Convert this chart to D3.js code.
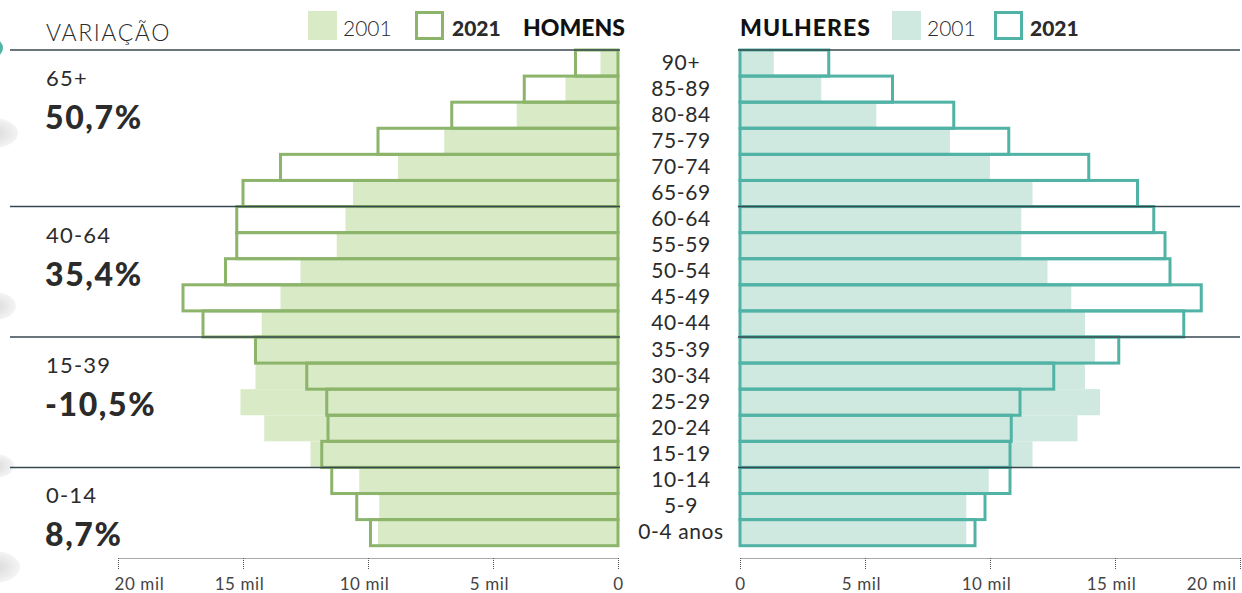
<!DOCTYPE html>
<html>
<head>
<meta charset="utf-8">
<script src="https://cdn.jsdelivr.net/npm/d3@7"></script>
<style>
  body { margin: 0; background: #fff; }
  svg { display: block; font-family: Lato, "Open Sans", sans-serif; }
</style>
</head>
<body>
<div id="chart"></div>
<script>
var width = 1242;
var height = 593;

// age groups, top to bottom
var ages = ['90+', '85-89', '80-84', '75-79', '70-74', '65-69', '60-64', '55-59', '50-54', '45-49',
    '40-44', '35-39', '30-34', '25-29', '20-24', '15-19', '10-14', '5-9', '0-4 anos'];

// population, thousands
var men2001 = [0.7, 2.1, 4.05, 6.95, 8.8, 10.6, 10.9, 11.25, 12.7, 13.5,
    14.25, 14.5, 14.5, 15.1, 14.15, 12.3, 10.35, 9.55, 9.6];
var men2021 = [1.7, 3.75, 6.65, 9.6, 13.5, 15.0, 15.25, 15.25, 15.7, 17.4,
    16.6, 14.5, 12.45, 11.65, 11.6, 11.85, 11.45, 10.45, 9.9];
var women2001 = [1.35, 3.25, 5.45, 8.4, 10.0, 11.7, 11.25, 11.25, 12.3, 13.25,
    13.8, 14.2, 13.8, 14.4, 13.5, 11.7, 9.95, 9.05, 9.05];
var women2021 = [3.55, 6.1, 8.55, 10.75, 13.95, 15.9, 16.55, 17.0, 17.2, 18.45,
    17.75, 15.15, 12.55, 11.2, 10.85, 10.8, 10.8, 9.8, 9.4];

// variation blocks on the left
var groups = ['65+', '40-64', '15-39', '0-14'];
var groupStart = ['90+', '60-64', '35-39', '10-14'];
var variation = ['50,7%', '35,4%', '-10,5%', '8,7%'];

var axisTicks = [0, 5, 10, 15, 20];

var menFill = '#d8eac6';
var menLine = '#8cb46a';
var womenFill = '#cfe8e0';
var womenLine = '#50b3a5';
var ruleColor = '#37474f';
var textColor = '#2b2b2b';

var svg = d3.select('#chart')
    .append('svg')
    .attr('width', width)
    .attr('height', height);

var y = d3.scaleBand().domain(ages).range([50, 545.7]).padding(0);
var xM = d3.scaleLinear().domain([0, 20]).range([618, 118]);
var xW = d3.scaleLinear().domain([0, 20]).range([740, 1240]);

// soft grey blobs on the left edge
var defs = svg.append('defs');
var grad = defs.append('radialGradient').attr('id', 'blob');
grad.append('stop').attr('offset', '0%').attr('stop-color', '#d9d9d9');
grad.append('stop').attr('offset', '100%').attr('stop-color', '#f4f4f4');
[[133, 24, 15], [306, 22, 14], [466, 20, 12], [567, 26, 16]].forEach(function (b) {
    svg.append('ellipse')
        .attr('cx', -6)
        .attr('cy', b[0])
        .attr('rx', b[1])
        .attr('ry', b[2])
        .style('fill', 'url(#blob)');
});
svg.append('ellipse')
    .attr('cx', -6).attr('cy', 48).attr('rx', 9).attr('ry', 9)
    .style('fill', womenLine);

// 2001 fills
svg.selectAll('.m01').data(ages).enter().append('rect')
    .attr('x', function (d, i) { return xM(men2001[i]); })
    .attr('y', function (d) { return y(d); })
    .attr('width', function (d, i) { return xM(0) - xM(men2001[i]); })
    .attr('height', y.bandwidth())
    .style('fill', menFill);
svg.selectAll('.w01').data(ages).enter().append('rect')
    .attr('x', xW(0))
    .attr('y', function (d) { return y(d); })
    .attr('width', function (d, i) { return xW(women2001[i]) - xW(0); })
    .attr('height', y.bandwidth())
    .style('fill', womenFill);

// 2021 outlines
svg.selectAll('.m21').data(ages).enter().append('rect')
    .attr('x', function (d, i) { return xM(men2021[i]); })
    .attr('y', function (d) { return y(d); })
    .attr('width', function (d, i) { return xM(0) - xM(men2021[i]); })
    .attr('height', y.bandwidth())
    .style('fill', 'none')
    .style('stroke', menLine)
    .style('stroke-width', 3);
svg.selectAll('.w21').data(ages).enter().append('rect')
    .attr('x', xW(0))
    .attr('y', function (d) { return y(d); })
    .attr('width', function (d, i) { return xW(women2021[i]) - xW(0); })
    .attr('height', y.bandwidth())
    .style('fill', 'none')
    .style('stroke', womenLine)
    .style('stroke-width', 3);

// age labels
svg.selectAll('.age').data(ages).enter().append('text')
    .attr('x', 681)
    .attr('y', function (d) { return y(d) + y.bandwidth() / 2 + 6.5; })
    .attr('text-anchor', 'middle')
    .style('font-size', '21px')
    .style('letter-spacing', '0.6px')
    .style('fill', textColor)
    .text(function (d) { return d; });

// separator rules and variation labels
groupStart.forEach(function (g, i) {
    var ly = y(g);
    svg.append('line')
        .attr('x1', 10).attr('x2', 620)
        .attr('y1', ly).attr('y2', ly)
        .style('stroke', ruleColor)
        .style('stroke-width', 1.6);
    svg.append('line')
        .attr('x1', 738).attr('x2', 1240)
        .attr('y1', ly).attr('y2', ly)
        .style('stroke', ruleColor)
        .style('stroke-width', 1.6);
    svg.append('text')
        .attr('x', 46).attr('y', ly + 36)
        .style('font-size', '22px')
        .style('letter-spacing', '1.2px')
        .style('fill', textColor)
        .text(groups[i]);
    svg.append('text')
        .attr('x', 45).attr('y', ly + 79)
        .style('font-size', '32px')
        .style('font-weight', 900)
        .style('letter-spacing', '1.6px')
        .style('fill', textColor)
        .text(variation[i]);
});

svg.append('text')
    .attr('x', 46).attr('y', 41)
    .style('font-size', '23px')
    .style('font-weight', 300)
    .style('letter-spacing', '1.6px')
    .style('fill', textColor)
    .text('VARIAÇÃO');

// legends
function legend(x1, x2, x3, x4, fill, line) {
    svg.append('rect')
        .attr('x', x1).attr('y', 11).attr('width', 29).attr('height', 29)
        .style('fill', fill);
    svg.append('text')
        .attr('x', x2).attr('y', 36)
        .style('font-size', '21px')
        .style('font-weight', 300)
        .style('fill', textColor)
        .text('2001');
    svg.append('rect')
        .attr('x', x3 + 1.5).attr('y', 12.5).attr('width', 26).attr('height', 26)
        .style('fill', 'none')
        .style('stroke', line)
        .style('stroke-width', 3);
    svg.append('text')
        .attr('x', x4).attr('y', 36)
        .style('font-size', '21px')
        .style('font-weight', 900)
        .style('fill', textColor)
        .text('2021');
}
legend(308, 343, 415, 452, menFill, menLine);
legend(892, 927, 994, 1030, womenFill, womenLine);

svg.append('text')
    .attr('x', 625).attr('y', 36)
    .attr('text-anchor', 'end')
    .style('font-size', '23px')
    .style('font-weight', 900)
    .style('fill', '#111')
    .text('HOMENS');
svg.append('text')
    .attr('x', 740).attr('y', 36)
    .style('font-size', '23px')
    .style('font-weight', 900)
    .style('letter-spacing', '1px')
    .style('fill', '#111')
    .text('MULHERES');

// axes
function fmt(d) { return d === 0 ? '0' : d + ' mil'; }

function drawAxis(scale, anchorEdge) {
    var g = svg.append('g')
        .attr('transform', 'translate(0,558)')
        .call(d3.axisBottom(scale).tickValues(axisTicks).tickFormat(fmt).tickSize(12).tickSizeOuter(0).tickPadding(8));
    g.select('.domain')
        .style('stroke', '#555')
        .style('stroke-dasharray', '1,1');
    g.selectAll('.tick line')
        .style('stroke', '#555')
        .style('stroke-dasharray', '1,1');
    g.selectAll('.tick text')
        .style('font-family', 'Lato, sans-serif')
        .style('font-size', '17px')
        .style('letter-spacing', '0.6px')
        .style('fill', '#444')
        .attr('dx', function (d) { return d === 0 ? 0 : -4; })
        .attr('text-anchor', function (d) { return d === 20 ? anchorEdge : 'middle'; });
}
drawAxis(xM, 'start');
drawAxis(xW, 'end');
</script>
</body>
</html>
